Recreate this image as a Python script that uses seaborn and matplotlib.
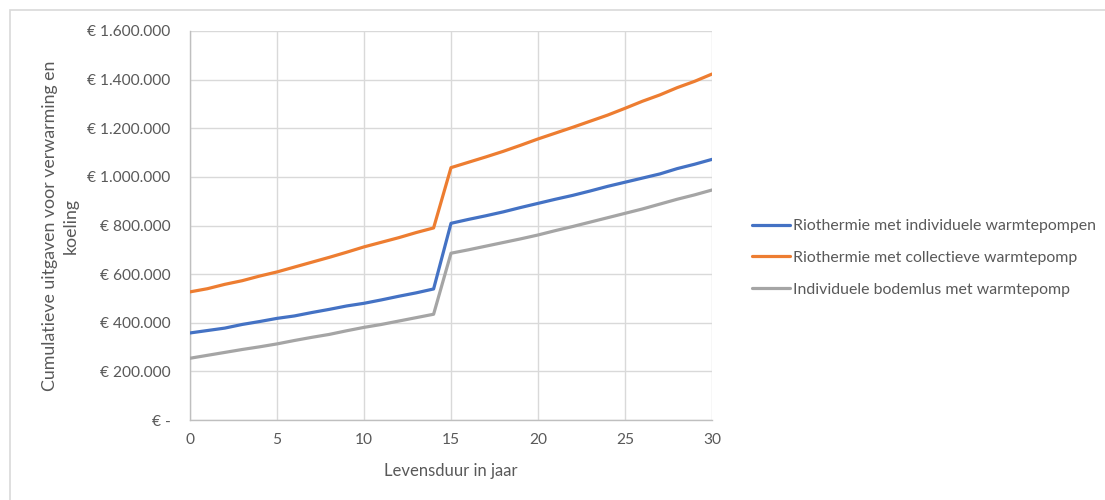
import matplotlib
matplotlib.use("Agg")
import matplotlib.pyplot as plt
import matplotlib.ticker as mticker
from matplotlib.patches import Rectangle
import numpy as np
import pandas as pd
import seaborn as sns

# Levensduur (jaar) en cumulatieve uitgaven in euro
years = list(range(0, 31))

riothermie_individueel = [
    358_000, 368_000, 378_000, 393_000, 405_000, 418_000, 428_000, 442_000,
    455_000, 469_000, 480_000, 494_000, 509_000, 523_000, 539_000,
    809_000, 825_000, 840_000, 856_000, 874_000, 891_000, 908_000, 924_000,
    942_000, 961_000, 978_000, 995_000, 1_012_000, 1_034_000, 1_052_000, 1_072_000,
]
riothermie_collectief = [
    527_000, 540_000, 558_000, 573_000, 592_000, 609_000, 629_000, 649_000,
    669_000, 690_000, 712_000, 731_000, 750_000, 771_000, 790_000,
    1_038_000, 1_060_000, 1_082_000, 1_105_000, 1_130_000, 1_156_000, 1_180_000,
    1_204_000, 1_229_000, 1_254_000, 1_282_000, 1_311_000, 1_337_000, 1_367_000,
    1_393_000, 1_423_000,
]
bodemlus_individueel = [
    254_000, 266_000, 278_000, 290_000, 301_000, 313_000, 327_000, 340_000,
    352_000, 367_000, 381_000, 393_000, 407_000, 421_000, 435_000,
    686_000, 700_000, 715_000, 730_000, 745_000, 761_000, 779_000, 796_000,
    814_000, 832_000, 850_000, 868_000, 888_000, 908_000, 926_000, 946_000,
]

series_names = [
    "Riothermie met individuele warmtepompen",
    "Riothermie met collectieve warmtepomp",
    "Individuele bodemlus met warmtepomp",
]
series_values = [riothermie_individueel, riothermie_collectief, bodemlus_individueel]
colors = ["#4472C4", "#ED7D31", "#A5A5A5"]

y_ticks = [0, 200_000, 400_000, 600_000, 800_000, 1_000_000, 1_200_000, 1_400_000, 1_600_000]
x_ticks = [0, 5, 10, 15, 20, 25, 30]

df = pd.concat(
    [pd.DataFrame({"jaar": years, "kosten": vals, "variant": name})
     for name, vals in zip(series_names, series_values)],
    ignore_index=True,
)

sns.set_theme(style="white")
plt.rcParams["font.family"] = ["Lato", "DejaVu Sans"]
text_color = "#595959"

fig = plt.figure(figsize=(11.05, 5.0), dpi=100)
ax = fig.add_axes([190 / 1105, 80 / 500, 522 / 1105, 389 / 500])

sns.lineplot(
    data=df, x="jaar", y="kosten", hue="variant", hue_order=series_names,
    palette=colors, linewidth=2.3, ax=ax, legend=False, zorder=3,
)

ax.set_xlim(0, 30)
ax.set_ylim(0, 1_600_000)
ax.set_xticks(x_ticks)
ax.set_yticks(y_ticks)


def euro(v, _pos):
    if v == 0:
        return "€ -"
    return "€ " + f"{int(v):,}".replace(",", ".")


ax.yaxis.set_major_formatter(mticker.FuncFormatter(euro))
ax.tick_params(axis="both", length=0, labelsize=11.2, labelcolor=text_color)
ax.tick_params(axis="y", pad=14)
ax.tick_params(axis="x", pad=9)

ax.grid(True, color="#d9d9d9", linewidth=1.0)
ax.set_axisbelow(True)
for side in ["top", "right"]:
    ax.spines[side].set_visible(False)
for side in ["left", "bottom"]:
    ax.spines[side].set_color("#bfbfbf")
    ax.spines[side].set_linewidth(1.0)

ax.set_xlabel("Levensduur in jaar", fontsize=12, color=text_color, labelpad=12)
ax.set_ylabel("Cumulatieve uitgaven voor verwarming en\nkoeling",
              fontsize=12.8, color=text_color, labelpad=6, linespacing=1.4)

handles = [plt.Line2D([], [], color=c, linewidth=2.3) for c in colors]
fig.legend(
    handles, series_names, loc="center left",
    bbox_to_anchor=(738 / 1105, (500 - 258) / 500),
    frameon=False, fontsize=11.4, labelcolor=text_color, handlelength=2.4,
    handletextpad=0.2, labelspacing=1.12,
)

# Chart frame (left and top edges visible)
fig.patches.append(Rectangle((10 / 1105, -0.05), 1.2, 490 / 500 + 0.05,
                             transform=fig.transFigure, fill=False,
                             edgecolor="#d9d9d9", linewidth=1.2))

fig.savefig("out.png", dpi=100, facecolor="white")
